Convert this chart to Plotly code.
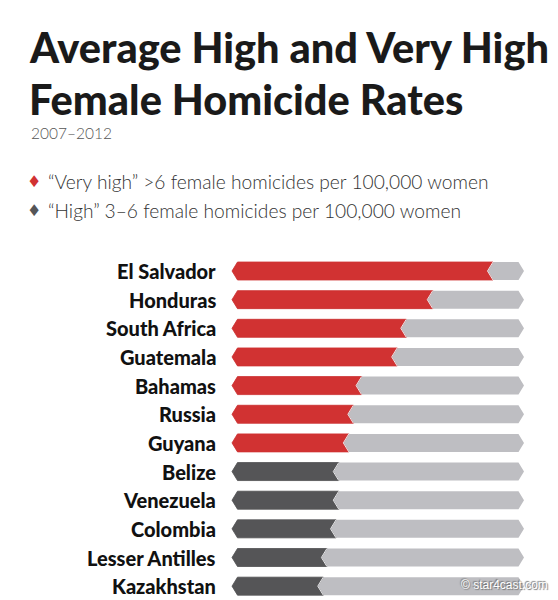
import plotly.graph_objects as go

# ---- data ----
countries = ["El Salvador", "Honduras", "South Africa", "Guatemala", "Bahamas", "Russia",
             "Guyana", "Belize", "Venezuela", "Colombia", "Lesser Antilles", "Kazakhstan"]
rates = [14.0, 10.7, 9.25, 8.75, 6.8, 6.35, 6.1, 5.55, 5.55, 5.4, 4.9, 4.7]
groups = ["very high"] * 7 + ["high"] * 5
scale_max = 16
title_lines = ["Average High and Very High", "Female Homicide Rates"]
subtitle = "2007–2012"
legend_items = [("very high", "“Very high” >6 female homicides per 100,000 women"),
                ("high", "“High” 3–6 female homicides per 100,000 women")]

RED = "#d13232"
DARK = "#555557"
LIGHT = "#bebec2"
colors = {"very high": RED, "high": DARK}

W, H = 558, 600
x0px, x1px = 232, 524
pxu = (x1px - x0px) / scale_max
xr = [-x0px / pxu, (W - x0px) / pxu]
row0, rowstep = 271, 28.65
yr = [(H - row0) / rowstep, -row0 / rowstep]

h = 9 / rowstep       # half bar height in y units
d = 5.5 / pxu         # tip depth in x units

fig = go.Figure()

# background (full scale) bars
bx, by = [], []
for i, _ in enumerate(countries):
    bx += [0, d, scale_max - d, scale_max, scale_max - d, d, 0, None]
    by += [i, i - h, i - h, i, i + h, i + h, i, None]
fig.add_trace(go.Scatter(x=bx, y=by, fill="toself", fillcolor=LIGHT, mode="lines",
                         line=dict(width=0, color=LIGHT), hoverinfo="skip", showlegend=False))

# value bars, per group
for g in ["very high", "high"]:
    vx, vy, sx, sy = [], [], [], []
    for i, (v, gg) in enumerate(zip(rates, groups)):
        if gg != g:
            continue
        vx += [0, d, v + d, v, v + d, d, 0, None]
        vy += [i, i - h, i - h, i, i + h, i + h, i, None]
        sx += [v + d, v, v + d, None]
        sy += [i - h, i, i + h, None]
    fig.add_trace(go.Scatter(x=vx, y=vy, fill="toself", fillcolor=colors[g], mode="lines",
                             line=dict(width=0.8, color=colors[g]), hoverinfo="skip",
                             showlegend=False))
    fig.add_trace(go.Scatter(x=sx, y=sy, mode="lines", line=dict(width=1, color="#e8e8ea"),
                             hoverinfo="skip", showlegend=False))

# country labels
for i, c in enumerate(countries):
    fig.add_annotation(x=-0.75, y=i, xref="x", yref="y", text=c, showarrow=False,
                       xanchor="right", yanchor="middle",
                       font=dict(family="Lato", size=20, color="#111111", weight=900))

# title
title_font = dict(family="Lato", size=41.5, color="#1a1a1a", weight=900)
fig.add_annotation(x=27 / W, y=1 - 47 / H, xref="paper", yref="paper", text=title_lines[0],
                   showarrow=False, xanchor="left", yanchor="middle", font=title_font)
fig.add_annotation(x=27 / W, y=1 - 99 / H, xref="paper", yref="paper", text=title_lines[1],
                   showarrow=False, xanchor="left", yanchor="middle", font=title_font)
fig.add_annotation(x=29 / W, y=1 - 133 / H, xref="paper", yref="paper", text=subtitle,
                   showarrow=False, xanchor="left", yanchor="middle",
                   font=dict(family="Lato", size=15.5, color="#555555", weight=300))

# legend
for k, (g, txt) in enumerate(legend_items):
    yy = 1 - (181 + 29 * k) / H
    fig.add_annotation(x=34 / W, y=yy, xref="paper", yref="paper", text="♦", showarrow=False,
                       xanchor="center", yanchor="middle",
                       font=dict(family="DejaVu Sans", size=16, color=colors[g]))
    fig.add_annotation(x=46 / W, y=yy, xref="paper", yref="paper", text=txt, showarrow=False,
                       xanchor="left", yanchor="middle",
                       font=dict(family="Lato", size=19.2, color="#333333", weight=300))

# watermark
fig.add_annotation(x=550 / W, y=1 - 585 / H, xref="paper", yref="paper", text="© star4cast.com",
                   showarrow=False, xanchor="right", yanchor="middle",
                   font=dict(family="Liberation Sans", size=12, color="#ffffff",
                             shadow="1px 1px 1px #777, -1px -1px 1px #777"))

fig.update_layout(width=W, height=H, margin=dict(l=0, r=0, t=0, b=0),
                  paper_bgcolor="white", plot_bgcolor="white",
                  xaxis=dict(range=xr, visible=False, fixedrange=True),
                  yaxis=dict(range=yr, visible=False, fixedrange=True),
                  showlegend=False)

fig.write_html("out.html")
